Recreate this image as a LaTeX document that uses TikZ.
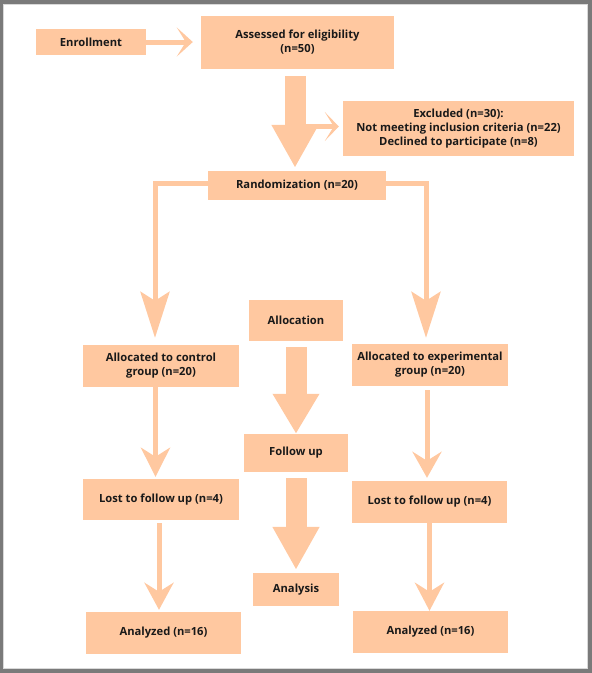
\documentclass[tikz,border=0pt]{standalone}
\usepackage{fontspec}
\setmainfont{Open Sans}
\usetikzlibrary{arrows.meta,positioning}
\definecolor{peach}{RGB}{255,200,160}
\definecolor{framegray}{RGB}{122,122,122}

\begin{document}
\begin{tikzpicture}[x=1pt, y=-1pt,
        box/.style = {fill=peach, inner sep=0pt, align=center,
                      text=black!90,
                      font=\bfseries\fontsize{11.2}{14}\selectfont},
       link/.style = {peach, line width=5pt,
                      -{Stealth[length=#1, width=29pt, inset=9pt]}},
        fat/.style = {peach, line width=21pt,
                      -{Triangle[length=#1, width=44pt]}}
                            ]
        % frame
        \useasboundingbox (0,0) rectangle (592,673);
        \fill[framegray] (0,0) rectangle (592,673);
        \fill[white, draw=black!15] (3,4) rectangle (587.5,668);

        % boxes
        \node[box, minimum width=110pt, minimum height=26pt] (enroll) at (91,42) {Enrollment};
        \node[box, minimum width=193pt, minimum height=53pt] (assess) at (297.5,42.5)
            {Assessed for eligibility\\(n=50)};
        \node[box, minimum width=231pt, minimum height=55pt] (excl) at (458.5,128.5)
            {Excluded (n=30):\\Not meeting inclusion criteria (n=22)\\Declined to participate (n=8)};
        \node[box, minimum width=178pt, minimum height=29pt] (rand) at (297,185.5) {Randomization (n=20)};
        \node[box, minimum width=94pt, minimum height=41pt] (alloc) at (296,320.5) {Allocation};
        \node[box, minimum width=156pt, minimum height=42pt] (ctrl) at (161,366)
            {Allocated to control\\group (n=20)};
        \node[box, minimum width=156pt, minimum height=42pt] (expt) at (430,365)
            {Allocated to experimental\\group (n=20)};
        \node[box, minimum width=104pt, minimum height=38pt] (follow) at (296,453) {Follow up};
        \node[box, minimum width=156pt, minimum height=41pt] (lostc) at (161,499.5) {Lost to follow up (n=4)};
        \node[box, minimum width=155pt, minimum height=42pt] (loste) at (429.5,502) {Lost to follow up (n=4)};
        \node[box, minimum width=86pt, minimum height=33pt] (analysis) at (296,589.5) {Analysis};
        \node[box, minimum width=155pt, minimum height=42pt] (anac) at (163.5,633) {Analyzed (n=16)};
        \node[box, minimum width=155pt, minimum height=42pt] (anae) at (430.5,632) {Analyzed (n=16)};

        % thin arrows
        \draw[link=16pt, shorten >=8pt] (enroll) -- (assess.west |- enroll);
        \draw[link=14pt, shorten >=4pt] (assess.south |- excl.west) ++(0,-2) coordinate (side)
            (side) -- ([yshift=2pt]excl.west);
        \draw[link=46pt, shorten >=7pt] ([yshift=2pt]rand.west) -| ([xshift=-6pt]ctrl.north);
        \draw[link=46pt, shorten >=6pt] ([yshift=2pt]rand.east) -| ([xshift=-4pt]expt.north);
        \draw[link=29pt, shorten >=2pt] ([xshift=-5.5pt]ctrl.south)
            -- ([xshift=-5.5pt]ctrl.south |- lostc.north);
        \draw[link=27pt, shorten <=3pt, shorten >=2pt] ([xshift=-2pt]lostc.south)
            -- ([xshift=-2pt]lostc.south |- anac.north);
        \draw[link=26pt, shorten <=4pt, shorten >=3pt] ([xshift=-3pt]expt.south)
            -- ([xshift=-3pt]expt.south |- loste.north);
        \draw[link=28pt] (loste.south) -- (loste.south |- anae.north);

        % big arrows
        \draw[fat=43pt, shorten <=7pt, shorten >=3pt] ([xshift=-2.5pt]assess.south)
            -- ([xshift=-2.5pt]assess.south |- rand.north);
        \draw[fat=40pt, shorten <=6pt] (alloc.south) -- (alloc.south |- follow.north);
        \draw[fat=43pt, shorten <=6pt, shorten >=3pt] (follow.south) -- (follow.south |- analysis.north);

    \end{tikzpicture}
\end{document}
